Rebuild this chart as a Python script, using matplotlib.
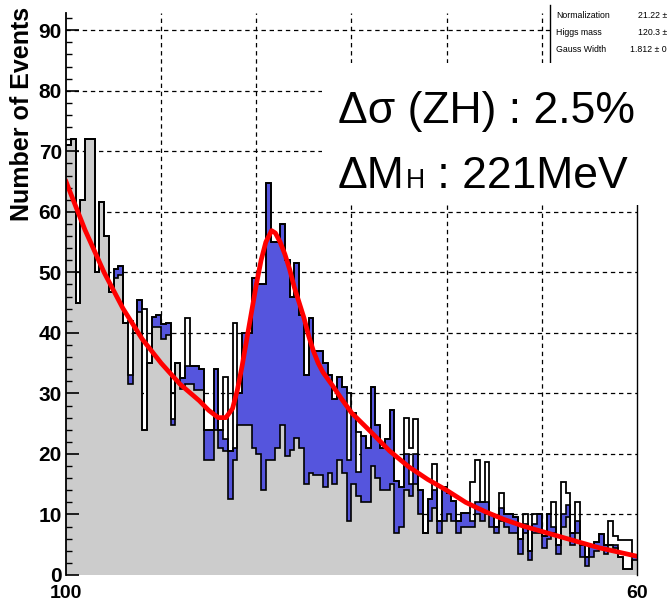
import numpy as np
import matplotlib.pyplot as plt
from matplotlib.patches import Rectangle
from matplotlib.lines import Line2D

plt.rcParams['font.family'] = ['Liberation Sans', 'DejaVu Sans']

# recoil mass histogram, 0.5 GeV bins from 100 to 160 GeV
edges = np.linspace(100, 160, 121)

data = [
    71, 72, 45, 62, 72, 72, 50, 61.6, 56, 46.7,
    50.5, 51, 41.7, 42, 40, 45.4, 44, 35, 42.6, 43,
    41.5, 41.7, 30, 35, 32.5, 42.4, 34.6, 34.6, 34, 24,
    24, 34, 24, 32.7, 20.5, 41.7, 30, 40, 40, 49,
    48, 48, 64.7, 55, 55, 58, 52, 46, 51.5, 43,
    33, 42.4, 37, 37, 35, 33, 29, 32.7, 31, 30,
    26.7, 23.6, 23, 21, 31, 24.7, 21, 22.5, 27.2, 15.6,
    14.5, 26, 21, 25.8, 14, 6.9, 12.6, 18.4, 9, 14.5,
    13.5, 12.3, 9, 10.2, 10.2, 15.3, 19, 12, 18.6, 10,
    7.9, 13.5, 10, 10, 9.5, 6, 10, 4, 10, 10,
    6.5, 10, 12, 5, 15.3, 13.5, 7, 12, 5, 2.9,
    5, 5.5, 6.8, 5, 9, 6.5, 5.7, 5.7, 5.7, 3.2,
]

background = [
    71, 72, 45, 62, 72, 72, 50, 61.6, 56, 46.7,
    49, 49.5, 41.7, 31.6, 40, 43.5, 24, 35, 41, 41,
    39, 39.7, 24.7, 35, 30.8, 31.5, 31.6, 30.5, 30.5, 19,
    19, 24, 21, 20.5, 12.6, 19, 24.7, 24.7, 24.7, 21,
    20, 14, 19, 19, 21, 24.7, 19.6, 20.6, 22.6, 21,
    15, 16.8, 16.5, 16.5, 14.5, 16.8, 15, 19, 16.8, 9,
    15, 13, 12, 12, 18, 16, 14, 14, 15, 6.9,
    8, 14, 13, 15, 10, 6.9, 9, 11, 7, 9,
    10, 9, 7, 8, 8, 8, 10, 9, 10, 8,
    7, 9, 8, 7, 7, 3.5, 7, 2.5, 7, 7,
    4.5, 6, 7, 3.5, 8, 9.5, 5, 7, 3, 1.5,
    3, 4, 4.5, 3.5, 5, 4.5, 3, 1, 1, 2.5,
]

signal = [
    0, 0, 0, 0, 0, 0, 0, 0, 0, 0,
    1.5, 1.5, 0, 1.5, 0, 1.9, 0, 0, 1.6, 2,
    2.5, 2, 1, 0, 1.7, 3, 3, 4, 3.5, 5,
    5, 10, 3, 2, 7.9, 2, 5.3, 15.3, 15.3, 28,
    28, 34, 45.7, 36, 34, 33.3, 32.4, 25.4, 28.9, 22,
    18, 25.6, 20.5, 20.5, 20.5, 16.2, 14, 13.7, 14.2, 10,
    11.7, 4, 11, 9, 13, 8.7, 7, 8.5, 12.2, 8.7,
    6.5, 6, 2, 5, 4, 0, 3.6, 3, 2, 5.5,
    3.5, 3.3, 2, 2.2, 2.2, 1, 2, 3, 2, 2,
    0.9, 2, 2, 3, 2.5, 2.5, 1.5, 1.5, 1.5, 3,
    2, 4, 1, 1.5, 2, 2, 2, 2, 2, 1.4,
    2, 1.5, 2.3, 1.5, 0, 0.5, 0, 0, 0, 0.7,
]

# fitted curve
fit_mass = [100, 102, 104, 106, 108, 110, 112, 114, 115, 116, 116.8, 117.5,
            118, 118.5, 119, 119.5, 120, 120.5, 121, 121.6, 122, 122.5, 123,
            123.5, 124, 124.5, 125, 125.5, 126, 126.5, 127, 128, 129, 130,
            132, 134, 136, 138, 140, 142, 144, 146, 148, 150, 152, 154, 156,
            158, 160]
fit_events = [65, 57, 50, 44, 39, 35, 31.5, 28.8, 27.2, 26, 26, 27.5,
              30.5, 34.5, 39, 43.5, 48, 52, 55, 56.9, 56.5, 55, 53,
              50.5, 47.5, 45, 42.5, 39.5, 37, 35, 33.5, 31.3, 29, 26.8,
              23.7, 20.5, 17.9, 15.8, 14, 12, 10.5, 9.2, 8.1, 7.2, 6.3, 5.4, 4.5,
              3.8, 3.1]

stat_names = ["Normalization", "Higgs mass", "Gauss Width", "Rho"]
stat_values = ["21.22 \u00b1", "120.3 \u00b1", "1.812 \u00b1 0", "0 \u00b1"]

W, H = 669, 603
fig = plt.figure(figsize=(W / 100, H / 100), dpi=100)
ax = fig.add_axes([66 / W, 1 - 575 / H, 571 / W, (575 - 13.3) / H])

total = np.array(background) + np.array(signal)

# grid under the histograms
for xv in [110, 120, 130, 140, 150]:
    ax.axvline(xv, color='black', lw=0.9, ls=(0, (3.5, 3)), zorder=0.5)
for yv in range(10, 100, 10):
    ax.axhline(yv, color='black', lw=0.9, ls=(0, (3.5, 3)), zorder=0.5)

ax.stairs(total, edges, fill=True, color='#5555dd', lw=0, zorder=1)
ax.stairs(background, edges, fill=True, color='#cccccc', lw=0, zorder=1.1)
ax.stairs(background, edges, baseline=None, color='black', lw=1.2, zorder=1.2)
ax.stairs(total, edges, baseline=None, color='black', lw=1.2, zorder=1.2)
ax.stairs(data, edges, baseline=None, color='black', lw=1.3, zorder=1.3)

ax.plot(fit_mass, fit_events, color='#ff0000', lw=3.4, zorder=2)

ax.set_xlim(100, 160)
ax.set_ylim(0, 92.8)
ax.set_xticks([100, 160], ['100', '60'])
ax.tick_params(axis='x', length=0, pad=7, labelsize=14)
ax.set_yticks(range(0, 100, 10))
ax.set_yticks(range(0, 93, 2), minor=True)
ax.tick_params(axis='y', which='major', direction='in', length=9, width=1.2,
               labelsize=15, pad=3)
ax.tick_params(axis='y', which='minor', direction='in', length=4.5, width=1.0)
for lab in ax.get_xticklabels() + ax.get_yticklabels():
    lab.set_fontweight('bold')
for side in ['top', 'bottom']:
    ax.spines[side].set_visible(False)
ax.spines['left'].set_linewidth(1.3)
ax.spines['right'].set_linewidth(1.0)

fig.text(22 / W, 1 - 7 / H, "Number of Events", rotation=90, ha='center',
         va='top', fontsize=18, fontweight='bold')

# stats box (top right)
fig.add_artist(Rectangle((550 / W, 1 - 68 / H), (W - 550) / W, 68 / H,
                         transform=fig.transFigure, facecolor='white',
                         edgecolor='none', zorder=3))
fig.add_artist(Line2D([550 / W, 550 / W], [1 - 5 / H, 1 - 68 / H],
                      transform=fig.transFigure, color='black', lw=1, zorder=4))
for i, (name, val) in enumerate(zip(stat_names, stat_values)):
    yy = 1 - (15 + 17.5 * i) / H
    fig.text(556 / W, yy, name, fontsize=6.3, va='center', zorder=4)
    fig.text(667 / W, yy, val, fontsize=6.3, va='center', ha='right', zorder=4)

# result box
fig.add_artist(Rectangle((322 / W, 1 - 205 / H), (W - 322) / W, (205 - 63) / H,
                         transform=fig.transFigure, facecolor='white',
                         edgecolor='none', zorder=5))
big = 32
fig.text(338 / W, 1 - 123 / H, "\u0394\u03c3 (ZH) : 2.5%", fontsize=big,
         va='baseline', zorder=6)

renderer = fig.canvas.get_renderer()
y2 = 1 - 188 / H
t1 = fig.text(338 / W, y2, "\u0394M", fontsize=big, va='baseline', zorder=6)
x1 = t1.get_window_extent(renderer).x1 / W
t2 = fig.text(x1 + 1 / W, y2, "H", fontsize=big * 0.6, va='baseline', zorder=6)
x2 = t2.get_window_extent(renderer).x1 / W
fig.text(x2, y2, " : 221MeV", fontsize=big, va='baseline', zorder=6)

fig.savefig("out.png", dpi=100)
